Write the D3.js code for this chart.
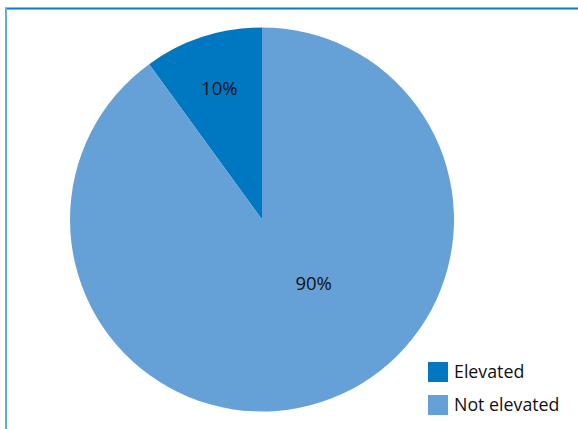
<!DOCTYPE html>
<html><head><meta charset="utf-8">
<script src="https://cdn.jsdelivr.net/npm/d3@7"></script>
<style>html,body{margin:0;padding:0;background:#fff;}svg{display:block;}</style>
</head><body>
<script>
const categories = ["Elevated", "Not elevated"];
const values = [10, 90];
const labels = ["10%", "90%"];
const colors = ["#0077C1", "#65A1D7"];

const W = 578, H = 429;
const svg = d3.select("body").append("svg").attr("width", W).attr("height", H);

// frame
svg.append("line").attr("x1", 5).attr("x2", W).attr("y1", 8.5).attr("y2", 8.5)
  .attr("stroke", "#0A7AC6").attr("stroke-width", 2);
svg.append("line").attr("x1", 6).attr("x2", 6).attr("y1", 8).attr("y2", H)
  .attr("stroke", "#5AAFE0").attr("stroke-width", 2);

const cx = 262, cy = 219.5, r = 192;
const data = categories.map((c, i) => ({cat: c, value: values[i], label: labels[i], color: colors[i]}));
const total = d3.sum(values);
const startA = -2 * Math.PI * values[0] / total;
const pie = d3.pie().value(d => d.value).sort(null)
  .startAngle(startA).endAngle(startA + 2 * Math.PI);
const arcs = pie(data);
const arc = d3.arc().innerRadius(0).outerRadius(r);

const g = svg.append("g").attr("transform", `translate(${cx},${cy})`);
g.selectAll("path").data(arcs).enter().append("path")
  .attr("d", arc).attr("fill", d => d.data.color);

// label placement (Excel best-fit like)
const labelPos = [
  d => d3.arc().innerRadius(0).outerRadius(r * 1.44).centroid(d),
  d => { const a = 141 * Math.PI / 180, rr = 82; return [rr * Math.sin(a), -rr * Math.cos(a)]; }
];
g.selectAll("text.lbl").data(arcs).enter().append("text")
  .attr("class", "lbl")
  .attr("transform", (d, i) => `translate(${labelPos[i](d)})`)
  .attr("text-anchor", "middle").attr("dy", "0.35em")
  .attr("font-family", "'Open Sans', sans-serif").attr("font-size", 18.5)
  .attr("fill", "#111").text(d => d.data.label);

// legend
const legend = svg.append("g").attr("transform", "translate(428,362)");
const li = legend.selectAll("g").data(data).enter().append("g")
  .attr("transform", (d, i) => `translate(0,${i * 33})`);
li.append("rect").attr("width", 20).attr("height", 20).attr("fill", d => d.color);
li.append("text").attr("x", 26).attr("y", 10).attr("dy", "0.36em")
  .attr("font-family", "'Open Sans', sans-serif").attr("font-size", 17.8)
  .attr("fill", "#111").text(d => d.cat);
</script>
</body></html>
